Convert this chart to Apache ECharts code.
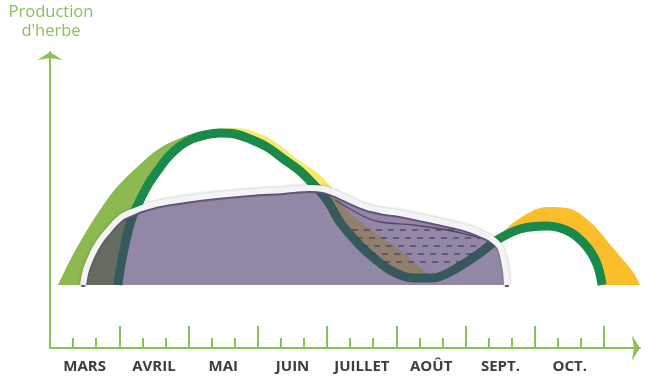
<!DOCTYPE html>
<html><head><meta charset="utf-8">
<script src="https://cdn.jsdelivr.net/npm/echarts@6/dist/echarts.min.js"></script>
<style>html,body{margin:0;padding:0;background:#fff}#c{width:668px;height:388px}</style>
</head><body><div id="c"></div>
<script>
// x = days since 1 March, y = relative grass production (arbitrary units)
const months = ['MARS','AVRIL','MAI','JUIN','JUILLET','AOÛT','SEPT.','OCT.'];
const outerArch = [[3.5,0],[8.7,25],[14.3,48],[21.6,75],[29.0,98],[37.7,118],[47.6,137],[57.6,148],[66.2,154],[80.1,157],[93.9,148],[108.2,124],[116.9,110],[122.5,95],[127.7,77],[137.2,58],[151.5,35],[161.5,15],[168.8,5],[181.8,22],[190.5,38],[194.8,50],[203.5,67],[215.2,78],[223.8,77],[233.8,63],[243.7,37],[252.4,13],[255.4,0]];
const greenLine = [[29.4,0],[30.7,20],[32.9,45],[35.5,67],[39.0,85],[42.4,100],[46.8,115],[51.1,128],[56.3,139],[61.5,146],[67.1,150],[73.6,152],[80.1,151],[86.6,146],[93.9,138],[101.7,125],[108.2,114],[114.7,99],[119.9,85],[125.5,63],[132.0,45],[137.2,33],[147.2,15],[157.1,7],[165.8,7],[176.2,17],[186.1,32],[193.5,45],[203.5,56],[215.2,59],[225.1,53],[232.5,38],[236.8,21],[239.0,0]];
const outline = [[14.3,0],[15.6,15],[18.6,32],[21.6,44],[24.7,53],[28.1,62],[31.6,69],[35.5,73],[39.8,77],[47.6,82],[58.4,86],[72.3,90],[86.6,93],[100.9,95],[112.6,97],[118.2,96],[123.4,92],[129.9,85],[137.2,78],[145.0,74],[151.5,72],[165.8,65],[180.5,57],[187.0,51],[191.3,46],[194.8,38],[196.5,25],[197.4,13],[197.8,0]];
const contour = [[123.4,85],[135.5,69],[142.9,63],[157.1,60],[171.9,55],[183.1,49],[190.5,45]];
const dashLevels = [55,47,39,31,23];
const dashStarts = [130.7,132.9,135.1,138.5,144.6];
const dashEnds = [181.8,187.0,187.4,183.1,178.4];

const GREEN_AXIS = '#8dc05a';
const chart = echarts.init(document.getElementById('c'));
const base = {type:'line', symbol:'none', smooth:0.35, xAxisIndex:1, yAxisIndex:1, silent:true};
const series = [
  Object.assign({}, base, {id:'outer', data: outerArch, lineStyle:{width:0}, areaStyle:{color:'#8cba50', opacity:1}, z:1}),
  Object.assign({}, base, {data: greenLine, lineStyle:{width:0}, areaStyle:{color:'#ffffff', opacity:1}, z:2}),
  Object.assign({}, base, {data: greenLine, lineStyle:{width:9, color:'#1a8a4b'}, z:3}),
  Object.assign({}, base, {data: outline, lineStyle:{width:0}, areaStyle:{color:'rgba(73,57,105,0.6)', opacity:1}, z:4}),
];
dashLevels.forEach((v,i)=>{
  series.push(Object.assign({}, base, {smooth:false, data:[[dashStarts[i],v],[dashEnds[i],v]], lineStyle:{width:1.5, type:[6,6], color:'rgba(70,50,100,0.75)'}, z:5}));
});
series.push(Object.assign({}, base, {data: contour, lineStyle:{width:1.3, color:'rgba(70,50,100,0.8)'}, z:5}));
series.push(Object.assign({}, base, {yAxisIndex:2, data: outline, lineStyle:{width:4, color:'#6a5a88'}, z:6}));
series.push(Object.assign({}, base, {data: outline, lineStyle:{width:6, color:'#f4f4f6', shadowBlur:3, shadowColor:'rgba(0,0,0,0.3)'}, z:7}));

chart.setOption({
  animation:false,
  grid:[
    {left:50, right:28, top:52, bottom:40},
    {left:50, right:28, top:52, bottom:103},
    {left:50, right:64, top:52, bottom:40}
  ],
  xAxis:[
    {gridIndex:0, type:'value', min:0, max:255.4, interval:15,
     axisLine:{show:true, symbol:['none','arrow'], symbolSize:[19,8], lineStyle:{color:GREEN_AXIS, width:2}},
     axisTick:{show:false}, splitLine:{show:false},
     axisLabel:{show:true, margin:11, color:'#3d3d3d', fontFamily:'"Open Sans"', fontWeight:'bold', fontSize:15,
       formatter:v=>{const k=Math.round(v/15); if(k%2===1 && (k-1)/2<months.length) return months[(k-1)/2]; return '';}}},
    {gridIndex:1, type:'value', min:0, max:255.4, show:false},
    {gridIndex:2, type:'value', min:0, max:240, interval:10, axisLine:{show:false}, axisLabel:{show:false}, splitLine:{show:false},
     axisTick:{show:true, inside:true, length:10, lineStyle:{color:GREEN_AXIS, width:2}}},
    {gridIndex:2, type:'value', min:0, max:240, interval:30, position:'bottom', axisLine:{show:false}, axisLabel:{show:false}, splitLine:{show:false},
     axisTick:{show:true, inside:true, length:22, lineStyle:{color:GREEN_AXIS, width:2}}}
  ],
  yAxis:[
    {gridIndex:0, type:'value', min:0, max:1,
     axisLine:{show:true, symbol:['none','arrow'], symbolSize:[19,8], lineStyle:{color:GREEN_AXIS, width:2}},
     axisTick:{show:false}, axisLabel:{show:false}, splitLine:{show:false}},
    {gridIndex:1, type:'value', min:0, max:233, show:false},
    {gridIndex:1, type:'value', min:3, max:236, show:false},
    {gridIndex:2, type:'value', min:0, max:1, show:false}
  ],
  graphic:[{type:'text', x:51, y:3, silent:true,
    style:{text:"Production\nd'herbe", fill:'#8cbf5c', font:'16.5px "Open Sans"', align:'center', verticalAlign:'top', lineHeight:19}}],
  series: series
});

const px = d => chart.convertToPixel({xAxisIndex:1}, d);
const W = 668;
const s1 = px(74.5)/W, s2 = px(190)/W;
chart.setOption({series:[{id:'outer', areaStyle:{color:{type:'linear', x:0, y:0, x2:W, y2:0, global:true, colorStops:[
  {offset:0, color:'#8cba50'},{offset:s1, color:'#8cba50'},{offset:s1, color:'#f9e96c'},{offset:s2, color:'#f9e96c'},{offset:s2, color:'#fbbd2c'},{offset:1, color:'#fbbd2c'}]}}}]});
</script>
</body></html>
